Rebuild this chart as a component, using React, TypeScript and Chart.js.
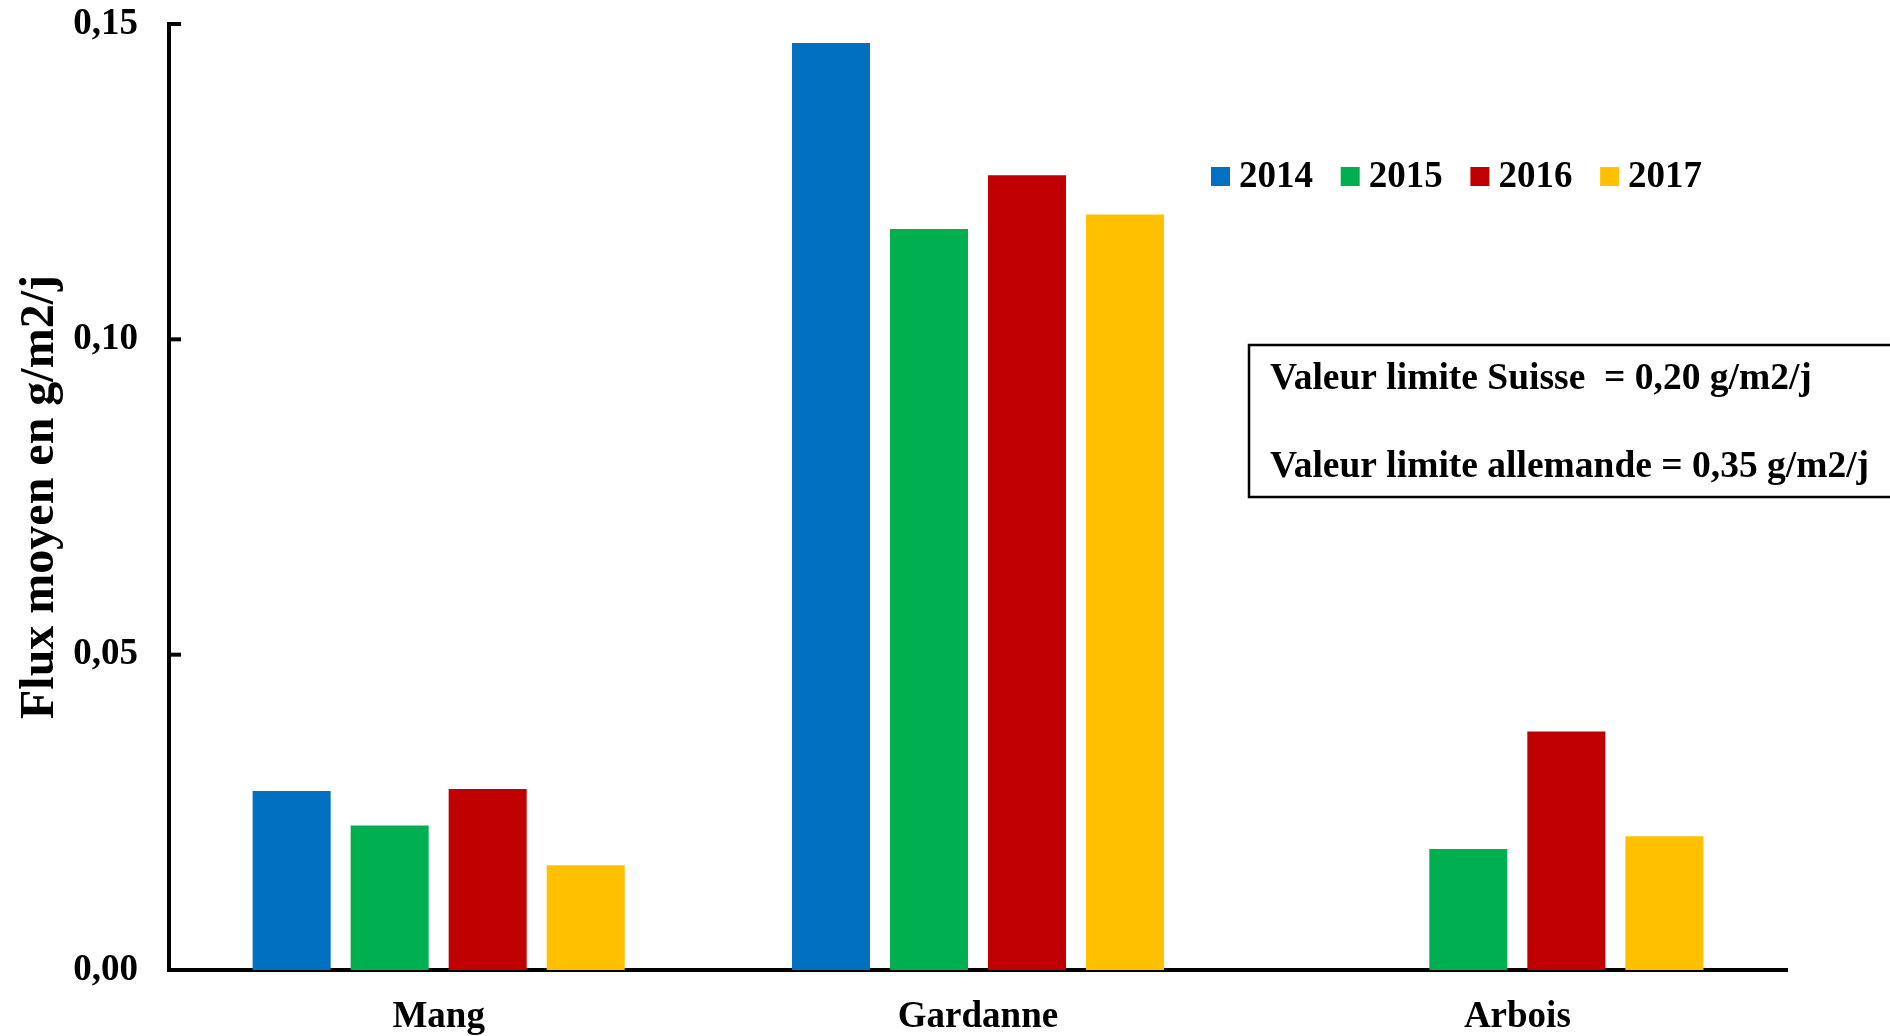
import React, { useEffect, useRef } from "react";
import { Chart, registerables } from "chart.js";

Chart.register(...registerables);

const categories = ["Mang", "Gardanne", "Arbois"];
const seriesLabels = ["2014", "2015", "2016", "2017"];
const values2014 = [0.0284, 0.147, null];
const values2015 = [0.0229, 0.1175, 0.0192];
const values2016 = [0.0287, 0.126, 0.0378];
const values2017 = [0.0166, 0.1198, 0.0212];
const seriesColors = ["#0070C0", "#00B050", "#C00000", "#FFC000"];
const yMin = 0;
const yMax = 0.15;
const yStep = 0.05;
const yTitle = "Flux moyen en g/m2/j";
const noteLines = [
  "Valeur limite Suisse  = 0,20 g/m2/j",
  "Valeur limite allemande = 0,35 g/m2/j",
];

const FONT_FAMILY = "'Liberation Serif', 'Times New Roman', serif";
const W = 1890;
const H = 1036;

const decorPlugin = {
  id: "decor",
  afterDraw(chart: any) {
    const ctx = chart.ctx as CanvasRenderingContext2D;
    const area = chart.chartArea;
    const yScale = chart.scales.y;
    ctx.save();

    // inward tick marks on y axis
    ctx.strokeStyle = "#000";
    ctx.lineWidth = 4;
    yScale.ticks.forEach((t: any) => {
      const py = yScale.getPixelForValue(t.value);
      ctx.beginPath();
      ctx.moveTo(area.left, py);
      ctx.lineTo(area.left + 12, py);
      ctx.stroke();
    });

    // y axis title
    ctx.fillStyle = "#000";
    ctx.font = `bold 48px ${FONT_FAMILY}`;
    ctx.save();
    ctx.translate(53, (area.top + area.bottom) / 2);
    ctx.rotate(-Math.PI / 2);
    ctx.textAlign = "center";
    ctx.textBaseline = "alphabetic";
    ctx.fillText(yTitle, 0, 0);
    ctx.restore();

    // legend
    ctx.font = `bold 37px ${FONT_FAMILY}`;
    ctx.textAlign = "left";
    ctx.textBaseline = "middle";
    chart.data.datasets.forEach((ds: any, i: number) => {
      const bx = 1211 + i * 129.7;
      ctx.fillStyle = ds.backgroundColor;
      ctx.fillRect(bx, 167, 19, 19);
      ctx.fillStyle = "#000";
      ctx.fillText(ds.label, bx + 28, 177);
    });

    // note box
    ctx.lineWidth = 2.5;
    ctx.strokeStyle = "#000";
    ctx.strokeRect(1249, 345, 700, 152);
    ctx.fillStyle = "#000";
    ctx.font = `bold 37.5px ${FONT_FAMILY}`;
    ctx.textBaseline = "middle";
    ctx.fillText(noteLines[0], 1270, 379);
    ctx.fillText(noteLines[1], 1270, 467);

    ctx.restore();
  },
};

export default function App() {
  const canvasRef = useRef<HTMLCanvasElement | null>(null);

  useEffect(() => {
    document.body.style.margin = "0";
    const canvas = canvasRef.current;
    if (!canvas) return;
    const allValues = [values2014, values2015, values2016, values2017];
    const chart = new Chart(canvas, {
      type: "bar",
      data: {
        labels: categories,
        datasets: seriesLabels.map((label, i) => ({
          label,
          data: allValues[i] as any,
          backgroundColor: seriesColors[i],
          borderWidth: 0,
          categoryPercentage: 0.727,
          barPercentage: 0.796,
        })),
      },
      options: {
        responsive: false,
        animation: false,
        devicePixelRatio: 1,
        layout: { padding: { top: 24, right: 103, bottom: 0, left: 0 } },
        plugins: {
          legend: { display: false },
          tooltip: { enabled: false },
          title: { display: false },
        },
        scales: {
          x: {
            grid: { display: false, drawTicks: false },
            border: { display: true, color: "#000", width: 4 },
            ticks: {
              color: "#000",
              font: { family: FONT_FAMILY, size: 37, weight: "bold" },
              padding: 25,
            },
            afterFit(scale: any) {
              scale.height = 66;
              scale.paddingLeft = 0;
              scale.paddingRight = 0;
            },
          },
          y: {
            min: yMin,
            max: yMax,
            grid: { display: false, drawTicks: false },
            border: { display: true, color: "#000", width: 4 },
            ticks: {
              stepSize: yStep,
              color: "#000",
              font: { family: FONT_FAMILY, size: 37, weight: "bold" },
              padding: 31,
              callback: (v: any) => Number(v).toFixed(2).replace(".", ","),
            },
            afterFit(scale: any) {
              scale.width = 169;
              scale.paddingTop = 0;
              scale.paddingBottom = 0;
            },
          },
        },
      },
      plugins: [decorPlugin],
    });
    return () => chart.destroy();
  }, []);

  return (
    <div style={{ position: "absolute", left: 0, top: 0, width: W, height: H, background: "#fff" }}>
      <canvas ref={canvasRef} width={W} height={H} style={{ display: "block", width: W, height: H }} />
    </div>
  );
}
